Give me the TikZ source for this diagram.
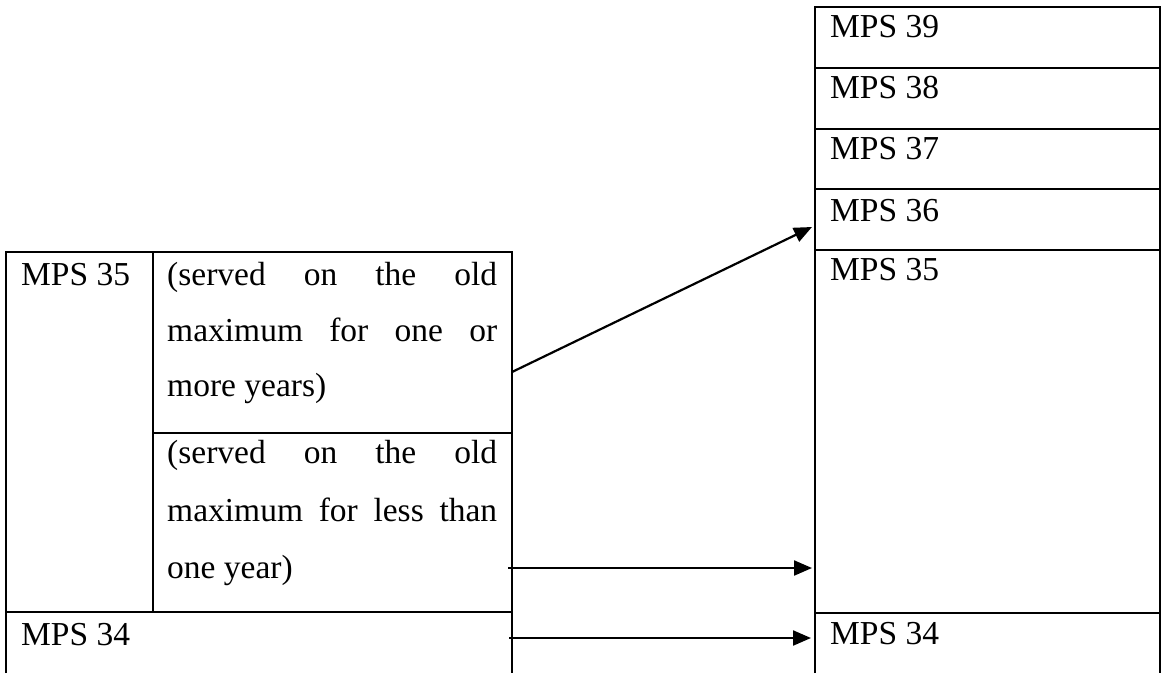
\documentclass[tikz,border=0pt]{standalone}
\usepackage{fontspec}
\setmainfont{Liberation Serif}
\usetikzlibrary{arrows.meta}
\begin{document}
\begin{tikzpicture}[x=1pt,y=-1pt,
  txt/.style={anchor=base west, inner sep=0pt, font=\fontsize{33.5}{55}\selectfont},
  gridline/.style={line width=2pt},
  arr/.style={line width=2.2pt, -{Triangle[length=18pt,width=15pt]}}]
\useasboundingbox (0,0) rectangle (1161,673);
% left table
\draw[gridline] (6,673) -- (6,252) -- (512,252) -- (512,673);
\draw[gridline] (153,252) -- (153,612);
\draw[gridline] (153,432.5) -- (512,432.5);
\draw[gridline] (6,612) -- (512,612);
% right table
\draw[gridline] (814.5,673) -- (814.5,7) -- (1159.5,7) -- (1159.5,673);
\foreach \yy in {68,128.5,189,250,612.5}
  \draw[gridline] (814.5,\yy) -- (1159.5,\yy);
% left texts
\node[txt] (l35) at (21,285) {MPS 35};
\node[txt] (a1) at (167,285) {\makebox[330pt][s]{(served on the old}};
\node[txt] (a2) at (167,341) {\makebox[330pt][s]{maximum for one or}};
\node[txt] (a3) at (167,396) {more years)};
\node[txt] (b1) at (167,463) {\makebox[330pt][s]{(served on the old}};
\node[txt] (b2) at (167,521) {\makebox[330pt][s]{maximum for less than}};
\node[txt] (b3) at (167,578) {one year)};
\node[txt] (l34) at (21,645) {MPS 34};
% right texts
\node[txt] (r39) at (830,37) {MPS 39};
\node[txt] (r38) at (830,98) {MPS 38};
\node[txt] (r37) at (830,159) {MPS 37};
\node[txt] (r36) at (830,221) {MPS 36};
\node[txt] (r35) at (830,280) {MPS 35};
\node[txt] (r34) at (830,644) {MPS 34};
% arrow ends
\coordinate (s1) at (512,372);
\coordinate (e1) at (812,227);
\coordinate (s2) at (508,568);
\coordinate (e2) at (812,568);
\coordinate (s3) at (509,638);
\coordinate (e3) at (811,638);
\draw[arr] (s1) -- (e1);
\draw[arr] (s2) -- (e2);
\draw[arr] (s3) -- (e3);
\end{tikzpicture}
\end{document}
